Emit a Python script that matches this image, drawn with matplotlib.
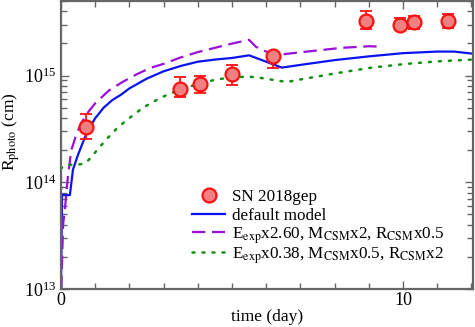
import numpy as np
import matplotlib
matplotlib.use("Agg")
import matplotlib.pyplot as plt
from matplotlib.ticker import LogLocator, MultipleLocator, NullFormatter
from matplotlib.legend import Legend

plt.rcParams['font.family'] = ['Liberation Serif', 'DejaVu Serif']
plt.rcParams['mathtext.fontset'] = 'stix'

# Observed data (SN 2018gep)
obs_t = [0.73, 3.48, 4.06, 5.00, 6.20, 8.92, 9.91, 10.32, 11.32]
obs_r = [3.3e14, 7.55e14, 8.4e14, 1.04e15, 1.51e15, 3.28e15, 3.01e15, 3.15e15, 3.28e15]
obs_hi = [4.4e14, 9.6e14, 1.0e15, 1.27e15, 1.68e15, 4.0e15, 3.5e15, 3.65e15, 3.8e15]
obs_lo = [2.56e14, 6.35e14, 6.8e14, 8.2e14, 1.19e15, 2.76e15, 2.65e15, 2.76e15, 2.82e15]

# default model (log10 R)
def_t = [0.0, 0.03, 0.26, 0.35, 0.5, 0.76, 1.0, 1.25, 1.5, 1.75, 2.0, 2.5, 3.0, 3.5,
         4.0, 4.5, 5.0, 5.5, 6.46, 7.0, 8.0, 9.0, 10.0, 11.0, 11.5, 12.05]
def_logr = [13.0, 13.88, 13.88, 14.12, 14.26, 14.47, 14.6, 14.7, 14.77, 14.82, 14.88,
            14.97, 15.04, 15.09, 15.13, 15.15, 15.165, 15.19, 15.075, 15.10, 15.145,
            15.18, 15.21, 15.225, 15.225, 15.205]

# Eexp x2.60 model
hi_t = [0.01, 0.06, 0.12, 0.2, 0.3, 0.45, 0.6, 0.8, 1.0, 1.4, 1.8, 2.2, 2.6, 3.0, 3.5,
        4.0, 4.5, 5.0, 5.5, 5.7, 6.0, 6.5, 7.2, 8.2, 9.0, 9.42]
hi_logr = [13.0, 13.6, 13.77, 14.05, 14.3, 14.45, 14.56, 14.66, 14.74, 14.86, 14.94,
           15.01, 15.07, 15.11, 15.17, 15.22, 15.26, 15.3, 15.335, 15.27, 15.225,
           15.20, 15.225, 15.26, 15.275, 15.27]

# Eexp x0.38 model
lo_t = [0.0, 0.0, 0.12, 0.6, 0.75, 0.9, 1.05, 1.35, 1.65, 1.95, 2.4, 2.9, 3.4, 4.0,
        4.5, 5.0, 5.5, 5.8, 6.6, 7.2, 8.2, 9.1, 10.1, 11.1, 12.05]
lo_logr = [13.0, 14.13, 14.16, 14.17, 14.19, 14.24, 14.3, 14.41, 14.51, 14.59, 14.7,
           14.79, 14.86, 14.92, 14.96, 14.985, 14.99, 14.98, 14.94, 14.975, 15.03,
           15.075, 15.11, 15.135, 15.15]

labels = ['SN 2018gep', 'default model',
          r'E$_{\mathrm{exp}}$x2.60, M$_{\mathrm{CSM}}$x2, R$_{\mathrm{CSM}}$x0.5',
          r'E$_{\mathrm{exp}}$x0.38, M$_{\mathrm{CSM}}$x0.5, R$_{\mathrm{CSM}}$x2']

fig = plt.figure(figsize=(4.75, 3.27), dpi=100)
ax = fig.add_axes([61/475, 1 - 289/327, 412/475, 288/327])

l_def, = ax.plot(def_t, 10**np.array(def_logr), color='#0a14f0', lw=1.6)
l_hi, = ax.plot(hi_t, 10**np.array(hi_logr), color='#9a10d8', lw=1.6, dashes=(6, 3))
l_lo, = ax.plot(lo_t, 10**np.array(lo_logr), color='#109010', lw=1.8, dashes=(0.8, 3.2),
                dash_capstyle='round')

obs_r_a = np.array(obs_r)
yerr = [obs_r_a - np.array(obs_lo), np.array(obs_hi) - obs_r_a]
ax.errorbar(obs_t, obs_r, yerr=yerr, fmt='none', ecolor='#ff1010', elinewidth=1.3,
            capsize=4, capthick=1.3, zorder=4)
l_obs, = ax.plot(obs_t, obs_r, 'o', ms=10, mfc='#f28080', mec='#ff1010', mew=1.6,
                 ls='none', zorder=5)

ax.set_yscale('log')
ax.set_xlim(0, 12.05)
ax.set_ylim(1e13, 5e15)

ax.xaxis.set_major_locator(MultipleLocator(10))
ax.xaxis.set_minor_locator(MultipleLocator(1))
ax.yaxis.set_major_locator(LogLocator(base=10, numticks=10))
ax.yaxis.set_minor_locator(LogLocator(base=10, subs=np.arange(2, 10), numticks=20))
ax.yaxis.set_minor_formatter(NullFormatter())

spine_c = '#666666'
for s in ax.spines.values():
    s.set_color(spine_c)
    s.set_linewidth(1.6)
ax.tick_params(which='both', direction='in', top=True, right=True, color=spine_c,
               labelsize=13)
ax.tick_params(axis='x', pad=2)
ax.tick_params(which='major', length=6, width=1.0)
ax.tick_params(which='minor', length=4, width=1.0)

ax.set_xlabel('time (day)', fontsize=12.5, labelpad=0)
ax.set_ylabel(r'R$_{\mathrm{photo}}$ (cm)', fontsize=12.5)
ax.yaxis.set_label_coords(-0.095, 0.545)

# legend: one entry per row so that rows are evenly spaced
rows = [(l_obs, labels[0], 197), (l_def, labels[1], 216),
        (l_hi, labels[2], 235.5), (l_lo, labels[3], 255.5)]
for h, lab, ypx in rows:
    lg = Legend(ax, [h], [lab], loc='center left',
                bbox_to_anchor=(0.318, (289 - ypx) / 288), frameon=False,
                fontsize=12.3, handlelength=1.93, handletextpad=0.42,
                borderpad=0, borderaxespad=0, numpoints=1)
    ax.add_artist(lg)

fig.savefig('out.png', dpi=100)
